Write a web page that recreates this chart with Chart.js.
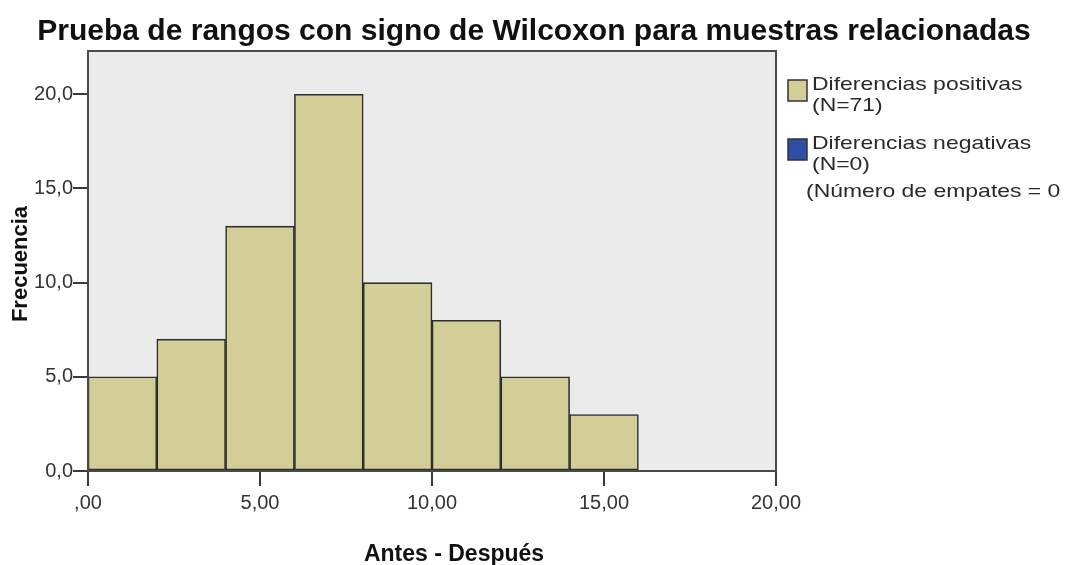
<!DOCTYPE html>
<html>
<head>
<meta charset="utf-8">
<script src="https://cdn.jsdelivr.net/npm/chart.js@4.4.1/dist/chart.umd.min.js"></script>
<style>
  html, body { margin: 0; padding: 0; background: #fff; }
  #wrap { width: 1066px; height: 565px; }
</style>
</head>
<body>
<div id="wrap"><canvas id="c" width="1066" height="565"></canvas></div>
<script>
// bins of Antes - Después (width 2), start of each bin
var binStarts = [0, 2, 4, 6, 8, 10, 12, 14];
var binWidth = 2;
var frequencies = [5, 7, 13, 20, 10, 8, 5, 3];
var yTicks = [0, 5, 10, 15, 20];
var xTicks = [0, 5, 10, 15, 20];
var legendLabels = [
  ['Diferencias positivas', '(N=71)'],
  ['Diferencias negativas', '(N=0)']
];
var legendNote = '(Número de empates = 0';

var barColor = '#d3ce98';
var negColor = '#2f4fa6';
var lineColor = '#3a3a3a';
var font = '"Liberation Sans", Arial, sans-serif';

var points = [];
for (var i = 0; i < binStarts.length; i++) {
  points.push({ x: binStarts[i] + binWidth / 2, y: frequencies[i] });
}

function fmtComma(v, digits) {
  var s = v.toFixed(digits).replace('.', ',');
  if (s.indexOf('0,') === 0) s = s.substring(1);
  return s;
}

// legend text in the reference is drawn wider than normal
function wideText(ctx, text, x, y, sx) {
  ctx.save();
  ctx.translate(x, y);
  ctx.scale(sx, 1);
  ctx.fillText(text, 0, 0);
  ctx.restore();
}

var decorations = {
  id: 'decorations',
  beforeDraw: function (chart) {
    var ctx = chart.ctx, a = chart.chartArea;
    ctx.save();
    ctx.fillStyle = '#ebebeb';
    ctx.fillRect(a.left, a.top, a.right - a.left, a.bottom - a.top);
    ctx.restore();
  },
  afterDraw: function (chart) {
    var ctx = chart.ctx, a = chart.chartArea;
    ctx.save();
    ctx.strokeStyle = '#4a4a4a';
    ctx.lineWidth = 2;
    ctx.strokeRect(a.left, a.top, a.right - a.left, a.bottom - a.top);

    // title
    ctx.fillStyle = '#111';
    ctx.textAlign = 'center';
    ctx.textBaseline = 'alphabetic';
    ctx.font = 'bold 30px ' + font;
    ctx.fillText('Prueba de rangos con signo de Wilcoxon para muestras relacionadas', 534, 40);

    // axis titles
    ctx.font = 'bold 23px ' + font;
    ctx.fillText('Antes - Después', 454, 561);
    ctx.save();
    ctx.translate(27, 264);
    ctx.rotate(-Math.PI / 2);
    ctx.font = 'bold 22px ' + font;
    ctx.fillText('Frecuencia', 0, 0);
    ctx.restore();

    // legend
    var colors = [barColor, negColor];
    var boxTops = [80, 139];
    ctx.textAlign = 'left';
    ctx.font = '18.5px ' + font;
    for (var i = 0; i < legendLabels.length; i++) {
      var y0 = boxTops[i];
      ctx.fillStyle = colors[i];
      ctx.fillRect(788, y0, 19, 21);
      ctx.strokeStyle = '#333';
      ctx.lineWidth = 1.5;
      ctx.strokeRect(788, y0, 19, 21);
      ctx.fillStyle = '#2a2a2a';
      wideText(ctx, legendLabels[i][0], 812, y0 + 10, 1.24);
      wideText(ctx, legendLabels[i][1], 812, y0 + 31, 1.24);
    }
    wideText(ctx, legendNote, 806, 197, 1.24);
    ctx.restore();
  }
};

new Chart(document.getElementById('c'), {
  type: 'bar',
  data: {
    datasets: [{
      label: 'Diferencias positivas',
      data: points,
      backgroundColor: barColor,
      borderColor: '#2e2e2e',
      borderWidth: 1.6,
      borderSkipped: false,
      barPercentage: 1,
      categoryPercentage: 1
    }]
  },
  plugins: [decorations],
  options: {
    responsive: false,
    animation: false,
    layout: { padding: { left: 0, top: 51, right: 290, bottom: 0 } },
    plugins: { legend: { display: false }, tooltip: { enabled: false } },
    scales: {
      x: {
        type: 'linear',
        min: 0,
        max: 20,
        offset: false,
        afterFit: function (s) { s.height = 94; },
        afterBuildTicks: function (s) { s.ticks = xTicks.map(function (v) { return { value: v }; }); },
        grid: { offset: false, drawOnChartArea: false, drawTicks: true, tickLength: 15, color: lineColor, lineWidth: 2 },
        border: { color: '#4a4a4a', width: 2 },
        ticks: {
          padding: 5,
          color: '#333',
          maxRotation: 0,
          font: { family: font, size: 20 },
          callback: function (v) { return fmtComma(v, 2); }
        }
      },
      y: {
        min: 0,
        max: 22.3,
        afterFit: function (s) { s.width = 88; },
        afterBuildTicks: function (s) { s.ticks = yTicks.map(function (v) { return { value: v }; }); },
        grid: { drawOnChartArea: false, drawTicks: true, tickLength: 15, color: lineColor, lineWidth: 2 },
        border: { color: '#4a4a4a', width: 2 },
        ticks: {
          padding: 0,
          color: '#333',
          font: { family: font, size: 20 },
          callback: function (v) { return v.toFixed(1).replace('.', ','); }
        }
      }
    }
  }
});
</script>
</body>
</html>
